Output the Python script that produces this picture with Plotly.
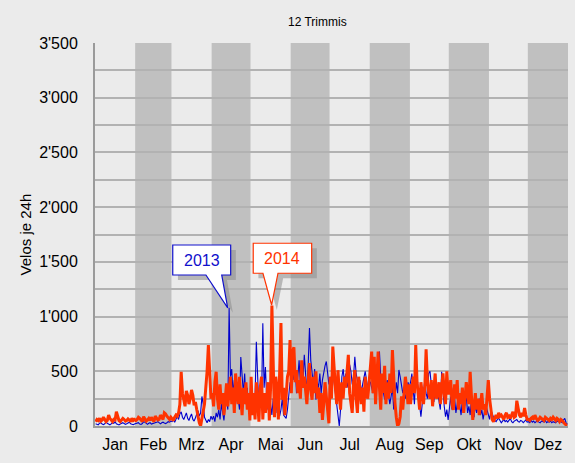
import plotly.graph_objects as go

months = ["Jan", "Feb", "Mrz", "Apr", "Mai", "Jun", "Jul", "Aug", "Sep", "Okt", "Nov", "Dez"]
month_days = [31, 28, 31, 30, 31, 30, 31, 31, 30, 31, 30, 31]
y_ticks = [0, 500, 1000, 1500, 2000, 2500, 3000, 3500]

# daily values 2013 (blue)
vel_2013 = [
    20,15,10,25,30,18,12,20,35,25,15,10,20,30,25,40,20,15,10,18,25,30,22,15,20,28,35,20,15,12,18,  # Jan
    20,25,30,18,15,22,40,35,20,15,25,30,18,22,20,28,35,40,25,20,30,35,28,22,30,40,35,45,  # Feb
    40,55,35,70,90,60,110,130,80,60,95,120,70,50,85,110,60,45,75,100,140,90,120,270,200,80,50,30,60,40,90,  # Mar
    60,90,40,120,80,150,60,200,100,50,180,250,150,1080,450,520,300,420,200,380,250,150,630,400,300,480,200,350,150,250,  # Apr
    200,150,300,250,770,400,150,300,200,940,350,540,250,150,360,200,100,250,180,300,120,200,90,150,250,100,80,70,150,300,400,  # Mai
    350,500,420,540,300,450,600,380,500,420,650,480,300,550,896,600,450,380,520,240,400,350,480,300,420,500,550,590,450,380,  # Jun
    450,380,500,420,300,200,80,0,150,450,520,400,480,350,420,560,500,380,450,633,480,400,350,420,300,380,450,500,420,350,390,  # Jul
    400,350,300,420,480,360,500,680,450,380,300,240,350,420,280,200,270,350,150,250,400,300,512,450,380,300,350,250,300,400,350,  # Aug
    400,480,350,200,450,470,300,180,85,200,350,420,300,250,480,500,380,300,220,350,400,300,200,150,496,300,180,85,150,55,  # Sep
    200,270,150,350,250,120,200,300,180,100,250,150,200,280,120,180,100,250,150,80,200,120,180,250,100,150,60,120,200,150,90,  # Okt
    60,146,120,80,50,40,60,70,50,30,45,60,40,50,35,55,70,40,30,45,50,60,40,35,50,45,30,40,55,35,  # Nov
    40,30,50,35,45,30,40,50,35,30,45,40,35,50,30,40,35,45,30,40,35,30,45,40,50,35,30,55,70,30,15,  # Dez
]

# daily values 2014 (orange-red)
vel_2014 = [
    40,60,50,70,45,55,80,60,40,50,100,70,50,40,60,55,130,80,50,40,55,70,60,45,50,65,55,40,70,50,60,  # Jan
    50,60,80,70,50,40,85,60,45,55,70,50,80,60,40,90,70,55,60,100,80,60,120,110,90,70,60,80,  # Feb
    60,50,80,100,90,120,200,496,300,250,180,320,280,200,250,330,280,190,220,150,80,30,0,60,120,200,350,500,740,400,250,  # Mar
    300,180,400,496,250,150,380,200,300,100,250,390,180,300,450,200,350,120,480,300,200,450,250,100,350,200,400,150,300,50,  # Apr
    450,100,300,60,400,250,40,350,450,60,300,120,250,400,50,350,1100,540,80,450,330,60,400,940,240,350,100,300,450,500,786,  # Mai
    300,680,720,400,510,300,420,250,600,350,450,300,200,400,575,330,240,450,300,500,250,350,120,300,55,200,400,270,100,25,  # Jun
    450,250,725,500,350,200,510,300,150,400,250,450,350,500,650,300,176,120,400,510,250,120,450,300,200,350,130,450,300,250,400,  # Jul
    500,680,300,633,200,450,680,350,150,480,300,550,200,400,250,480,300,695,400,210,80,0,20,85,270,150,300,450,350,200,380,  # Aug
    200,330,450,300,740,400,250,150,400,300,200,350,700,420,300,250,420,180,350,480,250,300,400,200,350,480,300,200,500,300,  # Sep
    300,420,200,146,380,250,420,150,300,200,350,120,250,400,300,200,496,250,55,180,300,150,250,100,200,300,150,200,100,250,420,  # Okt
    250,150,60,40,80,100,70,120,90,100,80,60,100,120,80,90,70,100,130,80,90,231,150,100,80,120,90,165,100,60,  # Nov
    60,50,70,80,60,100,70,50,60,80,70,60,50,80,70,60,50,70,60,80,60,50,70,60,40,60,50,30,20,10,10,  # Dez
]

n_days = sum(month_days)
assert len(vel_2013) == n_days, len(vel_2013)
assert len(vel_2014) == n_days, len(vel_2014)

x_days = [d + 0.5 for d in range(n_days)]

month_start = []
acc = 0
for m in month_days:
    month_start.append(acc)
    acc += m
month_mid = [s + m / 2 for s, m in zip(month_start, month_days)]

fig = go.Figure()

shapes = []
for i in range(1, 12, 2):
    shapes.append(dict(type="rect", xref="x", yref="paper",
                       x0=month_start[i], x1=month_start[i] + month_days[i],
                       y0=0, y1=1, fillcolor="#c0c0c0", line=dict(width=0),
                       layer="between"))

fig.add_trace(go.Scatter(x=x_days, y=vel_2013, mode="lines", name="2013",
                         line=dict(color="#0000cc", width=1.1)))
fig.add_trace(go.Scatter(x=x_days, y=vel_2014, mode="lines", name="2014",
                         line=dict(color="#ff3300", width=3)))


def callout_path(x0, x1, yb, yt, wb1, wb2, tx, ty, dx=0.0, dy=0.0):
    pts = [(x0, yt), (x1, yt), (x1, yb), (wb2, yb), (tx, ty), (wb1, yb), (x0, yb)]
    s = "M " + " L ".join(f"{px + dx},{py + dy}" for px, py in pts) + " Z"
    return s


callouts = [
    # (x0, x1, ybottom, ytop, wedge base 1, wedge base 2, tip x, tip y, color, text)
    (60.0, 104.7, 1380, 1654, 85.6, 97.8, 102.4, 1079, "#1010cc", "2013"),
    (122.1, 167.2, 1396, 1670, 129.6, 141.2, 136.3, 1106, "#ff3300", "2014"),
]
annotations = []
for x0, x1, yb, yt, w1, w2, tx, ty, col, txt in callouts:
    shapes.append(dict(type="path", xref="x", yref="y",
                       path=callout_path(x0, x1, yb, yt, w1, w2, tx, ty, dx=4.0, dy=-45),
                       fillcolor="rgba(140,140,140,0.55)", line=dict(width=0),
                       layer="above"))
    shapes.append(dict(type="path", xref="x", yref="y",
                       path=callout_path(x0, x1, yb, yt, w1, w2, tx, ty),
                       fillcolor="white", line=dict(color=col, width=1.2),
                       layer="above"))
    annotations.append(dict(x=(x0 + x1) / 2, y=(yb + yt) / 2, xref="x", yref="y",
                            text=txt, showarrow=False,
                            font=dict(size=16, color=col, family="Liberation Sans, Arial")))

annotations.append(dict(x=0.471, y=1.055, xref="paper", yref="paper", text="12 Trimmis",
                        showarrow=False, font=dict(size=12, color="black"),
                        xanchor="center", yanchor="middle"))
annotations.append(dict(x=-0.146, y=0.5, xref="paper", yref="paper", text="Velos je 24h",
                        showarrow=False, textangle=-90, font=dict(size=15, color="black"),
                        xanchor="center", yanchor="middle"))

fig.update_layout(
    width=575, height=463,
    margin=dict(l=95, r=7, t=43, b=37, autoexpand=False),
    paper_bgcolor="#ebebeb", plot_bgcolor="#ebebeb",
    showlegend=False,
    separators=".'",
    font=dict(family="Liberation Sans, Arial", size=16, color="black"),
    shapes=shapes,
    annotations=annotations,
    xaxis=dict(range=[0, n_days], tickmode="array", tickvals=month_mid, ticktext=months,
               showgrid=False, zeroline=False, showline=True, linecolor="#9a9a9a",
               linewidth=2, ticks="", ticklabelstandoff=3, fixedrange=True,
               automargin=False),
    yaxis=dict(range=[0, 3500], tickmode="array", tickvals=y_ticks, tickformat=",d",
               showgrid=True, gridcolor="#b2b2b2", gridwidth=1.5,
               minor=dict(dtick=250, showgrid=True, gridcolor="#b2b2b2", gridwidth=1.5),
               zeroline=False, showline=True, linecolor="#9a9a9a", linewidth=2,
               ticks="", ticklabelstandoff=12, fixedrange=True, automargin=False),
)

fig.write_html(
    "out.html",
    config={"displayModeBar": False},
    post_script="document.body.style.margin='0';document.body.style.overflow='hidden';",
)
